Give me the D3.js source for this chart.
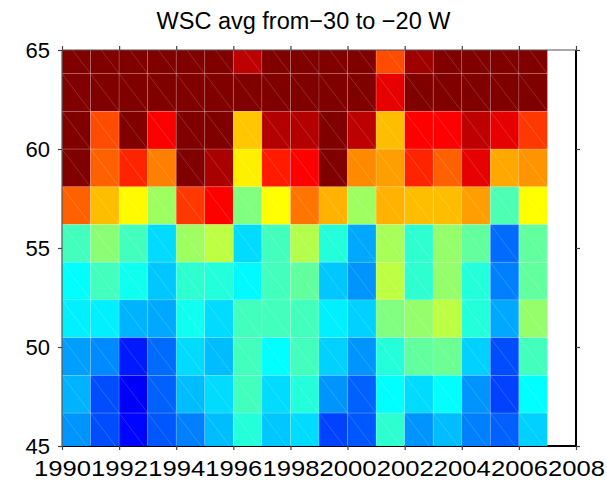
<!DOCTYPE html>
<html>
<head>
<meta charset="utf-8">
<script src="https://cdn.jsdelivr.net/npm/d3@7"></script>
<style>
  body { margin: 0; background: #fff; }
  text { font-family: "Liberation Sans", Arial, sans-serif; fill: #000; }
</style>
</head>
<body>
<div id="wrapper"></div>
<script>
// year edges (cell corners) and gaussian latitude edges
const years = d3.range(1990, 2008)
const lats = [44.7577, 46.6624, 48.5671, 50.4717, 52.3763, 54.2810,
  56.1856, 58.0903, 59.9949, 61.8995, 63.8042, 65.7090]
const xTicks = [1990, 1992, 1994, 1996, 1998, 2000, 2002, 2004, 2006, 2008]
const yTicks = [45, 50, 55, 60, 65]

// colour index (0..1 on the jet map), rows from north to south, columns 1990..2006
const row0 = [1, 1, 1, 1, 1, 1, 0.94, 1, 1, 1, 1, 0.8, 0.97, 1, 1, 1, 1]
const row1 = [1, 1, 1, 1, 1, 1, 1, 1, 1, 1, 1, 0.9, 1, 1, 1, 1, 1]
const row2 = [1, 0.8, 1, 0.88, 1, 1, 0.68, 0.95, 0.95, 1, 0.94, 0.69, 0.875, 0.875, 0.94, 0.9, 0.82]
const row3 = [1, 0.78, 0.84, 0.75, 1, 0.96, 0.64, 0.85, 0.875, 1, 0.74, 0.72, 0.84, 0.78, 0.9, 0.71, 0.73]
const row4 = [0.78, 0.69, 0.63, 0.53, 0.82, 0.875, 0.5, 0.625, 0.76, 0.7, 0.53, 0.7, 0.69, 0.69, 0.72, 0.45, 0.625]
const row5 = [0.44, 0.51, 0.44, 0.34, 0.53, 0.56, 0.34, 0.44, 0.55, 0.41, 0.29, 0.54, 0.42, 0.52, 0.47, 0.23, 0.47]
const row6 = [0.375, 0.44, 0.39, 0.32, 0.42, 0.41, 0.37, 0.44, 0.47, 0.32, 0.27, 0.56, 0.42, 0.52, 0.41, 0.25, 0.47]
const row7 = [0.36, 0.36, 0.3, 0.29, 0.39, 0.34, 0.44, 0.44, 0.44, 0.36, 0.33, 0.5, 0.52, 0.56, 0.41, 0.29, 0.52]
const row8 = [0.28, 0.26, 0.15, 0.23, 0.34, 0.31, 0.44, 0.375, 0.44, 0.33, 0.27, 0.41, 0.47, 0.48, 0.33, 0.2, 0.44]
const row9 = [0.3, 0.2, 0.12, 0.22, 0.31, 0.34, 0.44, 0.34, 0.41, 0.27, 0.22, 0.375, 0.34, 0.375, 0.27, 0.19, 0.375]
const row10 = [0.27, 0.2, 0.13, 0.21, 0.25, 0.31, 0.41, 0.32, 0.34, 0.19, 0.21, 0.42, 0.27, 0.31, 0.25, 0.22, 0.33]
const rows = [row0, row1, row2, row3, row4, row5, row6, row7, row8, row9, row10]

const title = "WSC avg from\u221230 to \u221220 W"

const dimensions = {
  width: 607,
  height: 486,
  margin: { top: 50, right: 31, bottom: 40, left: 62 },
}
dimensions.boundedWidth = dimensions.width - dimensions.margin.left - dimensions.margin.right
dimensions.boundedHeight = dimensions.height - dimensions.margin.top - dimensions.margin.bottom

const svg = d3.select("#wrapper").append("svg")
  .attr("width", dimensions.width)
  .attr("height", dimensions.height)

const bounds = svg.append("g")
  .attr("transform", `translate(${dimensions.margin.left},${dimensions.margin.top})`)

const xScale = d3.scaleLinear()
  .domain([1990, 2008])
  .range([0, dimensions.boundedWidth])
const yScale = d3.scaleLinear()
  .domain([45, 65])
  .range([dimensions.boundedHeight, 0])

const jet = d3.scaleLinear()
  .domain([0, 0.125, 0.375, 0.625, 0.875, 1])
  .range(["#000080", "#0000ff", "#00ffff", "#ffff00", "#ff0000", "#800000"])
  .clamp(true)

// flatten the grid; row i spans lats[n-1-i] .. lats[n-i]
const cells = []
rows.forEach((r, i) => {
  const top = lats[lats.length - 1 - i]
  const bottom = lats[lats.length - 2 - i]
  r.forEach((v, j) => cells.push({ x0: years[j], x1: years[j + 1], y0: bottom, y1: top, v }))
})

bounds.append("clipPath").attr("id", "clip")
  .append("rect")
  .attr("width", dimensions.boundedWidth)
  .attr("height", dimensions.boundedHeight)

// bottom and right frame (under the cells)
bounds.append("line")
  .attr("x1", 0).attr("x2", dimensions.boundedWidth)
  .attr("y1", dimensions.boundedHeight).attr("y2", dimensions.boundedHeight)
  .attr("stroke", "#000").attr("stroke-width", 2)
bounds.append("line")
  .attr("x1", dimensions.boundedWidth).attr("x2", dimensions.boundedWidth)
  .attr("y1", 0).attr("y2", dimensions.boundedHeight)
  .attr("stroke", "#000").attr("stroke-width", 2)

const grid = bounds.append("g").attr("clip-path", "url(#clip)")

grid.selectAll("rect")
  .data(cells)
  .join("rect")
  .attr("x", d => xScale(d.x0))
  .attr("y", d => yScale(d.y1))
  .attr("width", d => xScale(d.x1) - xScale(d.x0))
  .attr("height", d => yScale(d.y0) - yScale(d.y1))
  .attr("fill", d => jet(d.v))
  .attr("stroke", "rgba(255,255,255,0.18)")
  .attr("stroke-width", 0.8)

grid.selectAll("line")
  .data(cells)
  .join("line")
  .attr("x1", d => xScale(d.x0))
  .attr("y1", d => yScale(d.y1))
  .attr("x2", d => xScale(d.x1))
  .attr("y2", d => yScale(d.y0))
  .attr("stroke", "rgba(255,255,255,0.2)")
  .attr("stroke-width", 0.8)

// left and top frame
bounds.append("line")
  .attr("x1", 0).attr("x2", 0)
  .attr("y1", 0).attr("y2", dimensions.boundedHeight)
  .attr("stroke", "#555").attr("stroke-width", 1.2)
bounds.append("line")
  .attr("x1", 0).attr("x2", dimensions.boundedWidth)
  .attr("y1", 0).attr("y2", 0)
  .attr("stroke", "#555").attr("stroke-width", 1.2)

// axes
const xAxis = bounds.append("g")
  .attr("transform", `translate(0,${dimensions.boundedHeight})`)
  .call(d3.axisBottom(xScale).tickValues(xTicks).tickFormat(d3.format("d")).tickSize(4).tickPadding(10))
const xAxisTop = bounds.append("g")
  .call(d3.axisTop(xScale).tickValues(xTicks).tickFormat("").tickSize(4))
const yAxis = bounds.append("g")
  .call(d3.axisLeft(yScale).tickValues(yTicks).tickSize(4).tickPadding(8))
const yAxisRight = bounds.append("g")
  .attr("transform", `translate(${dimensions.boundedWidth},0)`)
  .call(d3.axisRight(yScale).tickValues(yTicks).tickFormat("").tickSize(4))

;[xAxis, xAxisTop, yAxis, yAxisRight].forEach(a => {
  a.select(".domain").remove()
  a.selectAll(".tick line").attr("stroke", "#444").attr("stroke-width", 1.2)
  a.selectAll("text").attr("font-family", "Liberation Sans, Arial, sans-serif")
    .attr("font-size", 22).attr("fill", "#000")
})
xAxis.selectAll("text").attr("textLength", 57).attr("lengthAdjust", "spacingAndGlyphs")

svg.append("text")
  .attr("x", dimensions.width / 2)
  .attr("y", 29)
  .attr("text-anchor", "middle")
  .attr("font-size", 23.5)
  .text(title)
</script>
</body>
</html>
